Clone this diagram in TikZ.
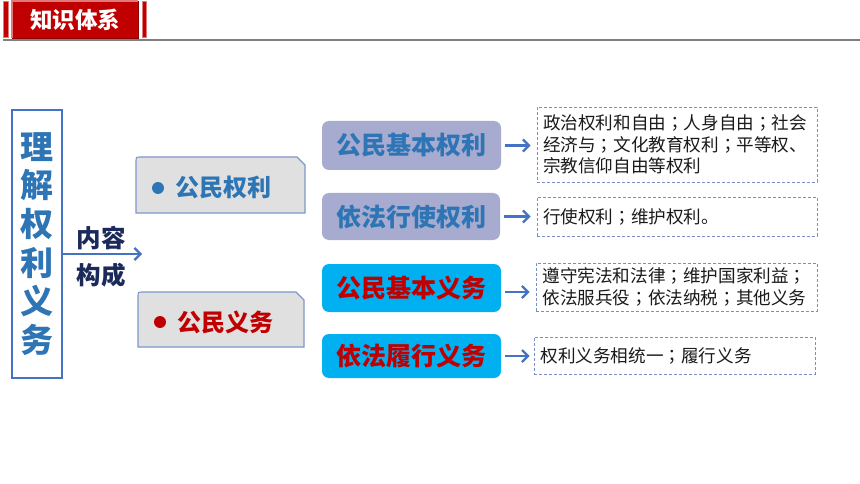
\documentclass[tikz,border=0pt]{standalone}
\usepackage{fontspec}
\newfontfamily\cjk{Noto Sans CJK SC}
\newfontfamily\cjktc{Noto Sans CJK TC}
\newcommand{\fsc}{{\cjktc ；}}
\usetikzlibrary{arrows.meta,calc}
\definecolor{hdrred}{HTML}{C00000}
\definecolor{hdrdark}{HTML}{8E0000}
\definecolor{hdrlight}{HTML}{E07A7A}
\definecolor{tblue}{HTML}{2E75B6}
\definecolor{navy}{HTML}{1B2A5A}
\definecolor{dred}{HTML}{C00000}
\definecolor{edgeblue}{HTML}{7F97C8}
\definecolor{lgray}{HTML}{E0E0E0}
\definecolor{lav}{HTML}{A7ABCF}
\definecolor{cyanbox}{HTML}{00B0F0}
\definecolor{dashc}{HTML}{7A8EC2}
\definecolor{arr}{HTML}{4472C4}
\definecolor{txt}{HTML}{1A1A1A}
\begin{document}
\begin{tikzpicture}[x=1pt,y=-1pt,
  conn/.style={draw=arr, line width=2.4pt, -{Straight Barb[length=6pt,width=12pt,line width=2.2pt]}},
  catbox/.style={fill=lgray, draw=edgeblue, line width=1.1pt},
  cattext/.style={font=\cjk\bfseries\fontsize{24}{28}\selectfont, inner sep=0pt},
  rbox/.style={rounded corners=7pt, inner sep=0pt, font=\cjk\bfseries\fontsize{25}{29}\selectfont},
  lavbox/.style={rbox, fill=lav, text=tblue},
  cyabox/.style={rbox, fill=cyanbox, text=dred},
  dbox/.style={draw=dashc, line width=0.9pt, dash pattern=on 3pt off 2pt, inner xsep=6pt, inner ysep=0pt,
     text width=268pt, align=left, text=txt, font=\cjk\fontsize{17.6}{21.5}\selectfont, minimum width=280pt}
]
\useasboundingbox (0,0) rectangle (860,484);
\fill[white] (0,0) rectangle (860,484);

% header
\fill[hdrred] (3,1) rectangle (9,38);
\draw[hdrlight, line width=0.8pt] (3.4,1.4) rectangle (8.6,37.6);
\fill[hdrred] (142,1) rectangle (147,38);
\draw[hdrlight, line width=0.8pt] (142.4,1.4) rectangle (146.6,37.6);
\node[fill=hdrred, minimum width=126pt, minimum height=37pt, inner sep=0pt, anchor=north west,
      text=white, font=\cjk\bfseries\fontsize{22.5}{25}\selectfont] (hdr) at (12,1) {知识体系};
\draw[hdrlight, line width=1.2pt] (hdr.south west) -- (hdr.north west) -- (hdr.north east);
\draw[hdrdark, line width=1.6pt] (hdr.north east) -- (hdr.south east) -- (hdr.south west);
\draw[gray, line width=1.4pt] (3,40) -- (860,40);

% left vertical box
\node[draw=arr, line width=1.1pt, minimum width=50pt, minimum height=268pt, inner sep=0pt,
      align=center, text=tblue, font=\cjk\bfseries\fontsize{33}{38.6}\selectfont] (lbox) at (37,244)
      {理\\解\\权\\利\\义\\务};
\coordinate (split) at (142,254);
\draw[conn] ([yshift=-10pt]lbox.east) -- (split);
\node[align=center, text=navy, font=\cjk\bfseries\fontsize{24.5}{37}\selectfont, inner sep=0pt] (lbl) at (101,256.5) {内容\\构成};

% category boxes
\draw[catbox] (136,213) -- (136,162) .. controls (136,157) .. (141,157) -- (297,157) -- (305,165) -- (305,213) -- cycle;
\node[cattext, text=tblue] (rights) at (223.5,187) {公民权利};
\fill[tblue] (158,188) circle (6pt);
\draw[catbox] (138,347) -- (138,297) .. controls (138,292) .. (143,292) -- (296,292) -- (304,300) -- (304,347) -- cycle;
\node[cattext, text=dred] (duties) at (225,322) {公民义务};
\fill[dred] (160,322) circle (6pt);

% right boxes
\node[lavbox, minimum width=179pt, minimum height=49pt] (b1) at (411.5,145.5) {公民基本权利};
\node[lavbox, minimum width=178pt, minimum height=47pt] (b2) at (411,216.5) {依法行使权利};
\node[cyabox, minimum width=179pt, minimum height=48pt] (b3) at (411.5,288) {公民基本义务};
\node[cyabox, minimum width=179pt, minimum height=44pt] (b4) at (411.5,356) {依法履行义务};

% dashed boxes
\node[dbox, minimum height=75pt] (d1) at (677,144.5) {政治权利和自由\fsc 人身自由\fsc 社会\\经济与\fsc 文化教育权利\fsc 平等权、\\宗教信仰自由等权利};
\node[dbox, minimum height=39pt] (d2) at (677,216.5) {行使权利\fsc 维护权利。};
\node[dbox, minimum height=48pt, minimum width=281pt] (d3) at (676.5,287) {遵守宪法和法律\fsc 维护国家利益\fsc \\依法服兵役\fsc 依法纳税\fsc 其他义务};
\node[dbox, minimum height=37pt, minimum width=281pt] (d4) at (674.5,355.5) {权利义务相统一\fsc 履行义务};

\draw[conn, shorten <=4pt, shorten >=6pt] (b1.east) -- (b1.east -| d1.west);
\draw[conn, shorten <=4pt, shorten >=6pt] (b2.east) -- (b2.east -| d2.west);
\draw[conn, shorten <=4pt, shorten >=6pt] ([yshift=-4pt]b3.east) -- ([yshift=-4pt]b3.east -| d3.west);
\draw[conn, shorten <=4pt, shorten >=4pt] (b4.east) -- (b4.east -| d4.west);
\end{tikzpicture}
\end{document}
